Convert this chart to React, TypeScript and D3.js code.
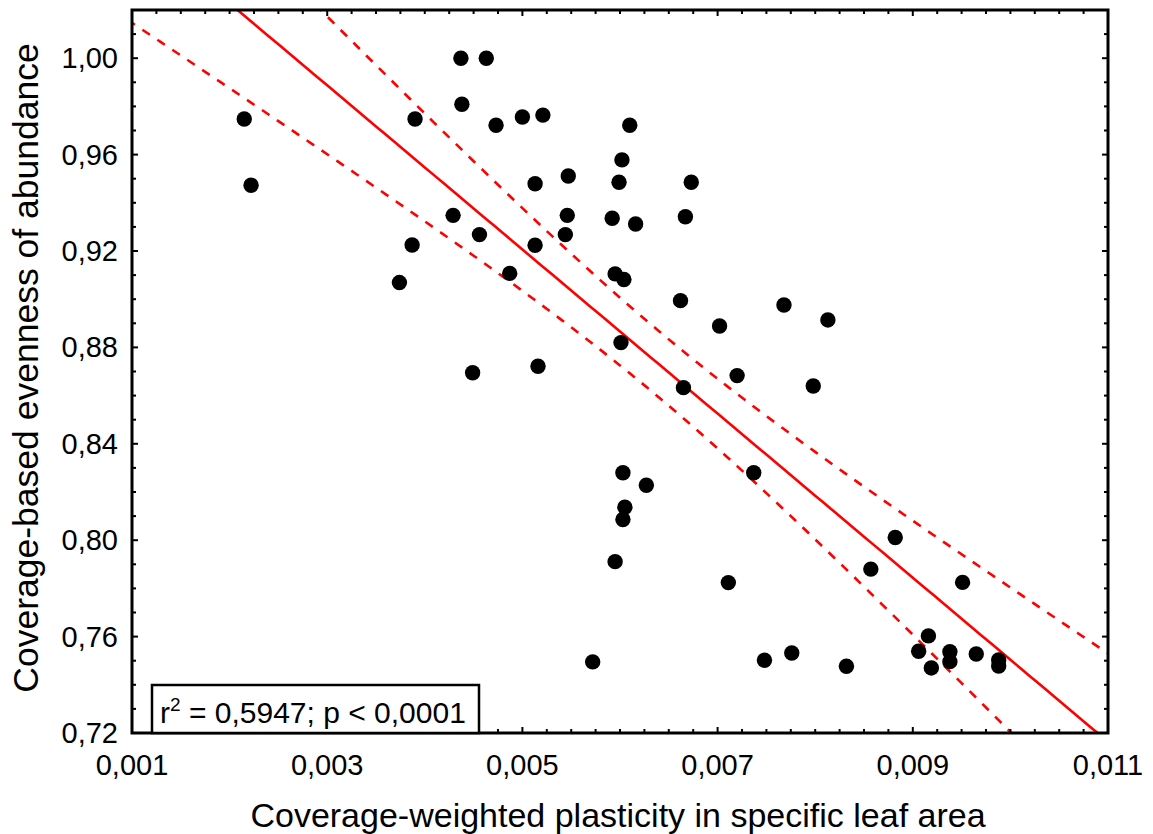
import React from "react";
import * as d3 from "d3";

// values
const plasticity = [
  0.00215, 0.00222, 0.00374, 0.00387, 0.0039, 0.00429, 0.00437, 0.00438, 0.00449, 0.00456,
  0.00463, 0.00473, 0.00487, 0.005, 0.00513, 0.00513, 0.00516, 0.00521, 0.00544, 0.00546,
  0.00547, 0.00572, 0.00592, 0.00595, 0.00595, 0.00599, 0.00601, 0.00602, 0.00603, 0.00603,
  0.00604, 0.00605, 0.0061, 0.00616, 0.00627, 0.00662, 0.00665, 0.00667, 0.00673, 0.00702,
  0.00711, 0.0072, 0.00737, 0.00748, 0.00768, 0.00776, 0.00798, 0.00813, 0.00832, 0.00857,
  0.00882, 0.00906, 0.00916, 0.00919, 0.00938, 0.00938, 0.00951, 0.00965, 0.00988, 0.00988,
];
const evenness = [
  0.9748, 0.9473, 0.9069, 0.9225, 0.9748, 0.9348, 1.0, 0.9809, 0.8695, 0.9268,
  1.0, 0.9722, 0.9107, 0.9756, 0.9479, 0.9224, 0.8722, 0.9764, 0.9268, 0.9348,
  0.9511, 0.7495, 0.9336, 0.9105, 0.7911, 0.9485, 0.882, 0.9578, 0.8086, 0.828,
  0.9082, 0.8137, 0.9722, 0.9312, 0.8228, 0.8994, 0.8633, 0.9342, 0.9485, 0.8889,
  0.7824, 0.8683, 0.828, 0.7502, 0.8976, 0.7532, 0.864, 0.8914, 0.7477, 0.788,
  0.8011, 0.7539, 0.7603, 0.747, 0.7537, 0.7496, 0.7825, 0.7528, 0.7503, 0.7478,
];
const xTicks = [0.001, 0.003, 0.005, 0.007, 0.009, 0.011];
const yTicks = [0.72, 0.76, 0.8, 0.84, 0.88, 0.92, 0.96, 1.0];
const xTitle = "Coverage-weighted plasticity in specific leaf area";
const yTitle = "Coverage-based evenness of abundance";
const rSquared = "0,5947";
const pValue = "0,0001";

const W = 1153;
const H = 834;
const left = 132, right = 1108, top = 10, bottom = 733;
const font = "'Liberation Sans', Arial, sans-serif";

const comma = (f: (n: number) => string) => (v: number) => f(v).replace(".", ",");
const fmtX = comma(d3.format(".3f"));
const fmtY = comma(d3.format(".2f"));

export default function App() {
  const x = d3.scaleLinear().domain([0.001, 0.011]).range([left, right]);
  const y = d3.scaleLinear().domain([0.72, 1.02]).range([bottom, top]);

  // least squares fit + 95% confidence band for the mean
  const pts = plasticity.map((v, i) => [v, evenness[i]]);
  const n = pts.length;
  const xm = d3.mean(plasticity) as number;
  const ym = d3.mean(evenness) as number;
  const sxx = d3.sum(plasticity, (v) => (v - xm) ** 2);
  const sxy = d3.sum(pts, (p) => (p[0] - xm) * (p[1] - ym));
  const b = sxy / sxx;
  const a = ym - b * xm;
  const sse = d3.sum(pts, (p) => (p[1] - (a + b * p[0])) ** 2);
  const s = Math.sqrt(sse / (n - 2));
  const t = 2.0017;
  const grid = d3.range(0.0008, 0.0112, 0.0001);
  const se = (v: number) => s * Math.sqrt(1 / n + (v - xm) ** 2 / sxx);

  const line = d3.line<number>().x((v) => x(v)).y((v) => y(a + b * v));
  const upper = d3.line<number>().x((v) => x(v)).y((v) => y(a + b * v + t * se(v)));
  const lower = d3.line<number>().x((v) => x(v)).y((v) => y(a + b * v - t * se(v)));

  const xMinor = d3.range(0.001, 0.011 + 1e-9, 0.00025);
  const yMinor = d3.range(0.72, 1.02 + 1e-9, 0.01);
  const isMajorX = (v: number) => xTicks.some((k) => Math.abs(k - v) < 1e-7);
  const isMajorY = (v: number) => yTicks.some((k) => Math.abs(k - v) < 1e-6);

  return (
    <svg width={W} height={H} style={{ position: "absolute", left: 0, top: 0, background: "#fff" }}
      fontFamily={font}>
      <defs>
        <clipPath id="plot">
          <rect x={left} y={top} width={right - left} height={bottom - top} />
        </clipPath>
      </defs>

      <g clipPath="url(#plot)" fill="none" stroke="#ff0000" strokeWidth={2.6}>
        <path d={line(grid) || ""} />
        <path d={upper(grid) || ""} strokeDasharray="9,9" />
        <path d={lower(grid) || ""} strokeDasharray="9,9" />
      </g>

      <g fill="#000">
        {pts.map((p, i) => (
          <circle key={i} cx={x(p[0])} cy={y(p[1])} r={7.7} />
        ))}
      </g>

      {/* ticks inside on all four sides */}
      <g stroke="#000" strokeWidth={2}>
        {xMinor.map((v, i) => {
          const len = isMajorX(v) ? 6 : 4;
          return (
            <g key={"xt" + i}>
              <line x1={x(v)} x2={x(v)} y1={bottom} y2={bottom - len} />
              <line x1={x(v)} x2={x(v)} y1={top} y2={top + len} />
            </g>
          );
        })}
        {yMinor.map((v, i) => {
          const len = isMajorY(v) ? 6 : 4;
          return (
            <g key={"yt" + i}>
              <line x1={left} x2={left + len} y1={y(v)} y2={y(v)} />
              <line x1={right} x2={right - len} y1={y(v)} y2={y(v)} />
            </g>
          );
        })}
      </g>

      <rect x={left} y={top} width={right - left} height={bottom - top} fill="none" stroke="#000" strokeWidth={3} />

      <g fontSize={29} fill="#000">
        {xTicks.map((v) => (
          <text key={v} x={x(v)} y={775} textAnchor="middle">{fmtX(v)}</text>
        ))}
        {yTicks.map((v) => (
          <text key={v} x={118} y={y(v) + 10} textAnchor="end">{fmtY(v)}</text>
        ))}
      </g>

      <text x={618} y={827} textAnchor="middle" fontSize={34}>{xTitle}</text>
      <text transform="translate(38,368) rotate(-90)" textAnchor="middle" fontSize={35.5}>{yTitle}</text>

      <rect x={152} y={685} width={327} height={48} fill="#fff" stroke="#000" strokeWidth={2.5} />
      <text x={160} y={723} fontSize={30}>
        r<tspan fontSize={19} dy={-12}>2</tspan>
        <tspan dy={12}>{` = ${rSquared}; p < ${pValue}`}</tspan>
      </text>
    </svg>
  );
}
